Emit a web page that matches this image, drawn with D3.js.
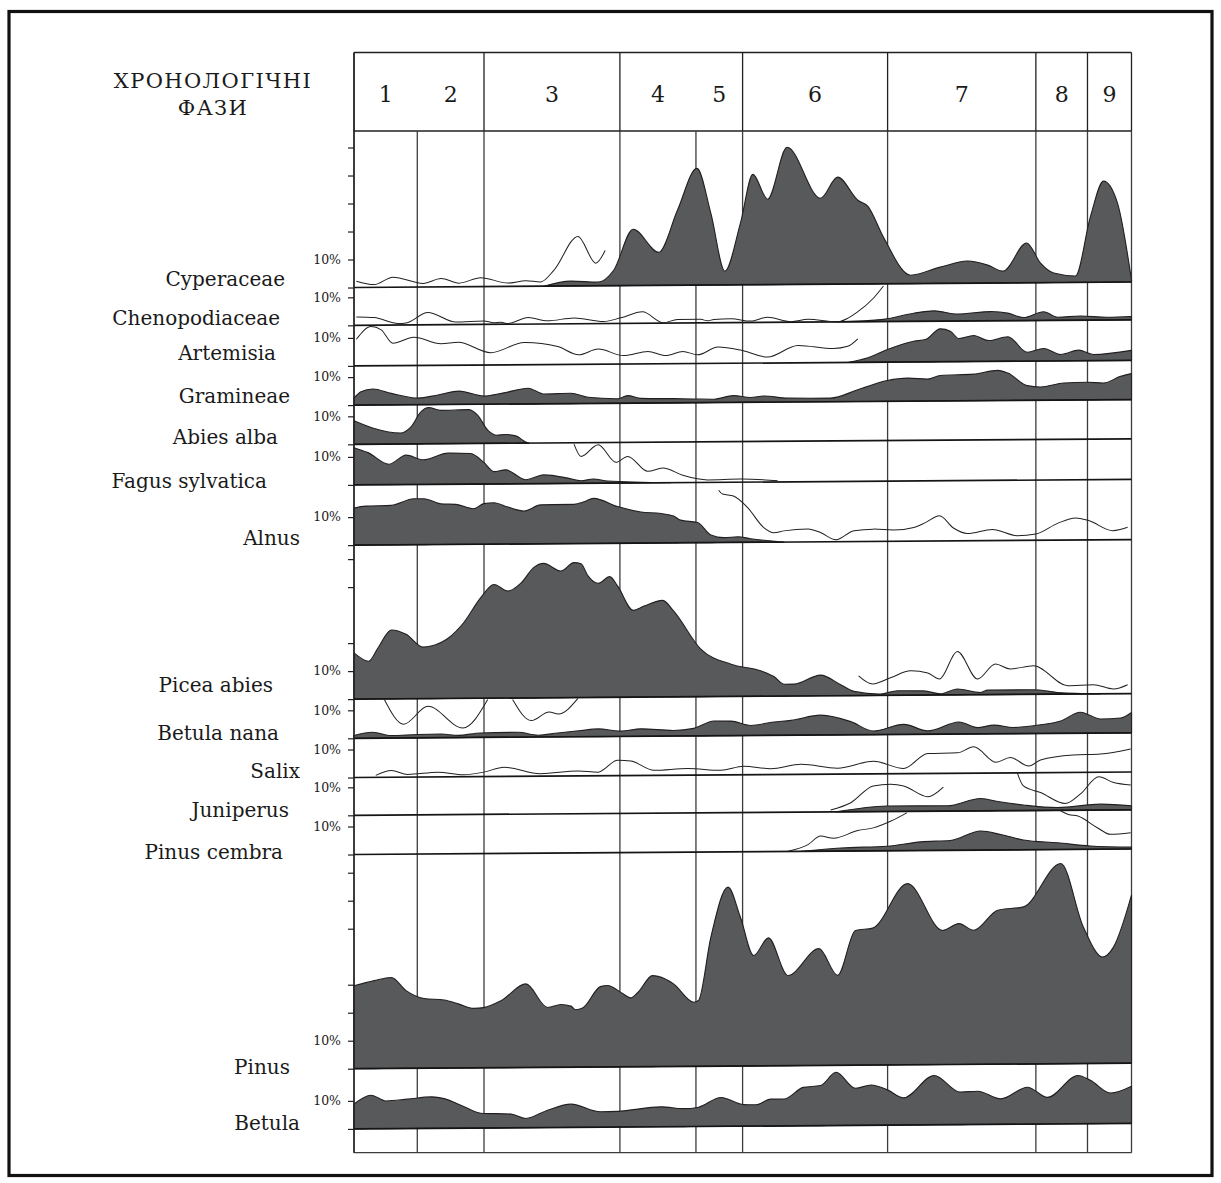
<!DOCTYPE html>
<html>
<head>
<meta charset="utf-8">
<title>Пилкова діаграма</title>
<script src="https://cdn.jsdelivr.net/npm/d3@7"></script>
<style>
  html, body { margin: 0; padding: 0; background: #fff; }
  svg { display: block; font-family: "DejaVu Serif", "Liberation Serif", serif; }
</style>
</head>
<body>
<svg id="chart" width="1221" height="1183"></svg>
<script>
// ---- Chronological phases (position along the section, 0–100) ----
const phaseLabels = ["1", "2", "3", "4", "5", "6", "7", "8", "9"];
const phaseBounds = [0, 8.14, 16.72, 34.2, 43.98, 49.98, 68.63, 87.7, 94.34, 100];
const headerBounds = [0, 16.72, 34.2, 49.98, 68.63, 87.7, 94.34, 100];
const headerTitle = ["ХРОНОЛОГІЧНІ", "ФАЗИ"];

// ---- Taxa, top to bottom ----
const taxonNames = ["Cyperaceae", "Chenopodiaceae", "Artemisia", "Gramineae", "Abies alba",
  "Fagus sylvatica", "Alnus", "Picea abies", "Betula nana", "Salix", "Juniperus",
  "Pinus cembra", "Pinus", "Betula"];

// percentage range reserved for each strip, and the ticks drawn on the axis
const panelSpans = [55.9, 13.5, 14.5, 14, 14, 14.5, 21.5, 55, 14, 14, 13.5, 14, 76.5, 21.5];
const bottomSpan = 8.5;
const panelTicks = [[0, 10, 20, 30, 40, 50], [0, 10], [0, 10], [0, 10], [0, 10], [0, 10], [0, 10],
  [0, 10, 20, 40, 50], [0, 10], [0, 10], [0, 10], [0, 10], [0, 10, 20, 30, 50, 60, 70], [0, 10]];
const tickLabel = "10%";

// ---- Pollen percentages: [position, %] ----
const cyperaceae = [[24.4,0],[27.9,1.75],[31.4,1.3],[33.4,5.5],[35.9,20.1],[39.2,11.8],[41.6,26.8],[44.1,41.7],[45.9,25.6],[47.7,4.9],[49.7,22.0],[51.3,39.4],[53.2,30.5],[55.7,49.0],[60.0,30.7],[62.2,38.2],[64.8,29.9],[66.1,27.7],[68.1,16.6],[71.6,3.0],[75.4,5.8],[78.9,7.9],[81.5,6.4],[83.5,4.2],[86.5,14.2],[88.3,7.0],[90.0,3.4],[92.8,2.3],[94.7,23.3],[96.4,36.1],[98.2,28.2],[100,0.7]];
const chenopodiaceae = [[62.2,0],[68.1,0.8],[72.0,2.9],[74.6,3.7],[77.6,2.5],[81.9,3.3],[84.1,2.7],[86.1,1.1],[88.7,3.1],[90.5,1.1],[93.4,1.5],[96.9,1.0],[100,1.2]];
const artemisia = [[63.5,0],[66.1,1.6],[68.6,4.5],[72.0,7.4],[73.5,8.0],[75.4,11.75],[76.7,10.9],[77.8,8.25],[79.7,9.3],[81.6,7.45],[84.1,8.75],[86.6,3.2],[88.7,4.5],[90.9,2.3],[93.2,3.8],[95.1,2.2],[100,3.6]];
const gramineae = [[0,2.5],[0.9,4.75],[2.4,5.7],[4.8,4.1],[8.2,2.35],[10.8,3.4],[13.5,4.75],[16.7,2.9],[19.3,4.0],[22.4,5.6],[24.4,3.5],[27.9,3.7],[30.1,2.2],[33.9,1.6],[35.2,2.7],[36.9,1.7],[41.1,1.5],[43.7,1.35],[46.3,1.2],[48.8,2.45],[51.0,1.7],[52.7,2.2],[55.8,1.4],[61.3,1.3],[64.8,4.2],[68.6,7.45],[71.2,8.25],[73.8,7.85],[75.4,9.1],[79.7,9.5],[82.8,10.8],[84.1,9.8],[86.6,5.25],[88.3,4.75],[91.3,6.1],[94.3,6.3],[96.4,6.0],[98.6,8.35],[100,9.3]];
const abiesAlba = [[0,8.4],[2.6,5.6],[6.0,3.9],[7.3,6.0],[8.6,11.4],[9.6,12.9],[11.2,11.9],[14.7,12.1],[15.9,10.1],[17.2,4.7],[18.3,2.9],[19.5,3.1],[20.8,2.6],[22.1,0.4],[22.5,0]];
const fagusSylvatica = [[0,13.3],[1.8,11.5],[4.5,7.3],[6.7,10.5],[8.9,8.8],[12.1,11.1],[15.0,10.9],[16.7,7.7],[18.0,4.4],[19.5,5.0],[22.1,1.4],[24.4,3.1],[27.5,1.9],[29.2,0.9],[30.8,1.5],[32.6,0.75],[40.7,0]];
const alnus = [[0,13.2],[1.5,13.9],[4.8,14.1],[7.7,16.4],[9.0,16.4],[11.2,14.5],[13.1,14.3],[15.4,12.7],[16.7,14.5],[18.0,14.8],[19.8,13.2],[21.9,11.75],[24.0,13.9],[28.3,14.0],[29.6,14.9],[30.8,16.1],[33.9,13.1],[36.9,11.1],[39.5,10.5],[41.1,9.6],[42.0,8.1],[44.2,7.2],[45.9,2.75],[47.6,1.75],[49.4,2.0],[51.0,1.3],[55.3,0]];
const piceaAbies = [[0,16.5],[1.9,13.5],[3.1,18.3],[4.8,24.6],[6.7,23.0],[8.9,18.4],[9.9,18.75],[12.1,21.5],[14.1,27.0],[16.3,35.9],[18.0,40.6],[19.8,38.2],[21.5,41.1],[23.1,46.5],[24.4,48.0],[26.6,45.25],[28.3,48.2],[29.2,47.8],[30.1,43.4],[31.4,40.75],[32.9,43.1],[33.9,39.75],[35.9,31.0],[37.3,32.5],[39.7,34.5],[41.1,30.7],[44.6,17.0],[48.5,11.5],[52.3,9.1],[54.0,7.0],[55.3,4.25],[56.6,4.25],[60.0,7.4],[62.6,3.9],[64.3,1.5],[67.7,0.5],[69.9,1.6],[73.3,1.5],[75.4,0.4],[77.6,2.1],[80.6,0.8],[81.5,1.6],[87.4,1.65],[90.5,0.6],[96,0]];
const betulaNana = [[0,1.0],[2.4,2.1],[4.8,0.9],[8.2,1.2],[11.2,1.3],[13.4,0.8],[16.3,1.6],[21.1,1.75],[23.7,0.65],[26.2,1.4],[29.2,2.2],[31.4,2.75],[34.3,1.9],[36.9,2.65],[41.1,2.0],[43.7,2.7],[46.3,5.25],[48.5,5.2],[51.0,3.6],[54.0,4.75],[56.2,5.3],[60.0,7.1],[63.9,4.7],[66.8,1.3],[70.7,3.6],[73.8,1.2],[77.8,4.3],[80.2,2.25],[82.3,3.1],[84.8,2.2],[88.3,3.1],[90.9,4.4],[93.4,7.5],[96.0,5.0],[98.6,5.3],[100,7.25]];
const juniperus = [[62.0,0],[68.6,2.0],[76.3,1.9],[80.6,4.4],[82.8,3.3],[86.1,2.0],[90.5,1.0],[96.0,2.1],[100,1.4]];
const pinusCembra = [[57.5,0],[62.6,1.1],[68.6,1.6],[72.9,3.1],[76.7,3.5],[80.6,6.8],[83.2,5.5],[86.1,3.5],[90.5,2.4],[94.7,1.2],[100,0.7]];
const pinus = [[0,29.6],[2.6,31.4],[4.8,32.5],[6.7,27.75],[9.0,24.9],[11.6,24.3],[13.4,22.9],[15.4,21.25],[16.7,21.5],[18.9,23.9],[22.1,29.85],[24.9,21.4],[26.6,22.4],[27.9,21.8],[28.5,20.5],[29.4,21.1],[31.7,28.7],[32.6,29.1],[34.6,26.1],[35.6,24.6],[36.5,26.5],[38.4,32.5],[39.1,32.2],[41.1,29.5],[43.7,22.9],[44.3,23.5],[45.9,46.1],[48.1,63.9],[49.7,53.1],[51.4,39.4],[53.3,45.7],[55.8,32.2],[59.8,41.7],[62.2,32.1],[64.5,48.1],[66.7,48.9],[71.2,64.7],[75.7,47.9],[77.8,50.3],[79.7,47.9],[82.8,55.0],[86.1,56.1],[90.9,71.5],[93.8,48.8],[96.3,38.0],[97.7,41.6],[100,60.0]];
const betula = [[0,8.9],[2.2,12.0],[4.1,9.9],[6.9,10.5],[9.9,11.25],[11.6,10.6],[14.1,7.7],[16.3,5.3],[20.2,4.9],[22.1,3.3],[24.9,6.2],[27.9,8.3],[31.7,5.5],[33.9,5.6],[39.5,7.1],[42.4,6.4],[44.2,6.8],[47.2,10.3],[50.1,7.7],[51.7,7.6],[53.6,9.6],[55.3,9.6],[57.8,13.7],[60.0,14.3],[62.0,19.0],[64.5,13.25],[66.5,14.4],[68.6,12.6],[70.7,9.7],[74.6,17.6],[78.0,11.6],[80.2,11.9],[83.2,9.1],[86.6,13.2],[89.2,9.5],[93.1,17.25],[94.7,15.5],[97.3,10.9],[100,13.3]];

// ---- Exaggerated curves (×10), each a list of segments ----
const cyperaceaeX10 = [[[0.3,2.25],[2.6,1.0],[5.0,3.6],[8.9,1.3],[11.2,3.0],[13.5,1.3],[16.3,3.2],[19.8,1.2],[22.1,2.0],[24.0,1.5],[25.7,5.6],[28.8,17.7],[31.1,8.1],[32.3,12.6]]];
const chenopodiaceaeX10 = [[[0.3,3.0],[2.6,2.7],[5.7,0.5],[6.7,0.7],[9.5,4.4],[13.1,0.9],[16.7,1.25],[18.0,0.6],[18.9,0.7],[19.8,0.25],[22.4,2.35],[24.9,1.1],[28.3,2.1],[32.1,0.75],[34.3,2.0],[37.1,4.1],[39.8,0.1],[41.6,1.3],[44.6,1.25],[45.5,0.7],[46.3,1.2],[48.5,1.4],[51.0,0.5],[53.2,1.8],[56.2,0.2],[58.4,1.0],[62.0,0],[64.8,3.6],[66.8,8.35],[68.1,12.7]]];
const artemisiaX10 = [[[0.3,9.5],[2.2,14.0],[3.5,12.8],[5.0,8.0],[7.7,10.1],[11.2,7.7],[13.4,8.2],[17.6,4.4],[21.9,7.9],[26.2,6.4],[28.9,3.4],[31.4,5.4],[34.7,3.0],[37.8,4.4],[40.1,2.9],[42.3,4.35],[44.2,3.1],[46.8,5.8],[49.7,4.7],[53.2,2.1],[57.1,6.2],[61.7,5.0],[63.5,5.75],[64.8,8.4]]];
const fagusSylvaticaX10 = [[[28.3,14.0],[29.2,9.6],[31.4,13.7],[33.7,7.4],[35.2,9.5],[37.8,4.1],[39.7,5.25],[42.4,2.5],[45.5,0.9],[49.7,1.1],[54.5,0.45]]];
const alnusX10 = [[[46.9,18.7],[47.4,17.3],[48.8,16.6],[50.6,12.5],[52.7,5.25],[54.0,3.4],[55.3,4.0],[58.4,4.6],[60.0,3.3],[62.0,0.7],[64.3,3.9],[66.8,4.4],[69.4,4.0],[72.0,4.9],[73.5,6.6],[75.3,9.0],[77.1,4.6],[78.9,2.6],[82.1,4.0],[85.3,1.7],[87.7,2.25],[90.5,6.0],[92.8,7.9],[94.5,6.9],[97.6,3.25],[99.5,4.4]]];
const piceaAbiesX10 = [[[64.9,7.05],[66.7,4.1],[69.0,6.25],[71.6,8.7],[73.8,7.9],[75.3,5.7],[77.6,15.5],[80.2,5.6],[82.5,10.9],[84.4,9.1],[87.4,10.2],[91.8,3.0],[95.1,3.3],[97.7,1.7],[99.5,3.2]]];
const betulaNanaX10 = [[[3.9,13.75],[6.4,4.9],[9.5,11.25],[14.0,3.4],[17.2,13.5]],[[20.4,13.5],[22.8,5.9],[25.1,8.9],[26.3,8.2],[28.8,13.7]]];
const salixX10 = [[[2.8,0.7],[4.8,2.4],[6.9,0.95],[10.8,1.7],[14.1,0.7],[16.7,1.6],[19.3,3.3],[24.0,0.9],[28.8,1.75],[31.4,1.3],[33.9,5.5],[35.6,5.2],[38.6,1.8],[42.9,2.35],[47.2,1.65],[50.1,3.0],[53.6,2.1],[57.5,3.6],[62.2,2.1],[66.8,4.5],[70.7,1.85],[73.8,7.15],[77.6,7.3],[79.7,9.4],[82.6,3.8],[84.4,5.5],[86.8,2.4],[88.3,4.5],[92.5,6.2],[96.0,6.5],[99.9,8.2]]];
const juniperusX10 = [[[61.3,0.7],[63.9,3.25],[66.8,9.2],[69.0,9.7],[70.7,9.1],[73.8,5.2],[75.8,8.6]],[[85.3,13.6],[86.1,8.8],[88.3,6.4],[91.5,2.4],[93.4,5.7],[95.8,11.85],[97.7,9.8],[99.9,8.9]]];
const pinusCembraX10 = [[[55.8,0.1],[58.4,2.4],[60.0,5.4],[61.7,4.6],[64.8,7.3],[66.8,8.2],[69.0,10.5],[71.1,13.5]],[[90.9,13.75],[91.9,12.5],[93.1,11.9],[95.6,7.7],[97.3,5.3],[99.9,5.8]]];

const taxonAreas = [cyperaceae, chenopodiaceae, artemisia, gramineae, abiesAlba, fagusSylvatica,
  alnus, piceaAbies, betulaNana, null, juniperus, pinusCembra, pinus, betula];
const taxonX10 = [cyperaceaeX10, chenopodiaceaeX10, artemisiaX10, null, null, fagusSylvaticaX10,
  alnusX10, piceaAbiesX10, betulaNanaX10, salixX10, juniperusX10, pinusCembraX10, null, null];

// ---- Layout ----
const plot = { left: 354, right: 1131.5, headerTop: 52.5, top: 131 };
// right end of each taxon name, and lift of its baseline above the strip baseline
const labelLayout = [
  { right: 285, lift: 2 }, { right: 280, lift: 0 }, { right: 276, lift: 5.5 },
  { right: 290, lift: 2.5 }, { right: 278, lift: 0 }, { right: 267, lift: -3.5 },
  { right: 300, lift: 0 }, { right: 273, lift: 7.5 }, { right: 279, lift: -1.5 },
  { right: 300, lift: 0 }, { right: 289, lift: -1.5 }, { right: 283, lift: -4.5 },
  { right: 290, lift: -5.5 }, { right: 300, lift: -1.5 }
];

const areaFill = "#58595b";
const ink = "#231f20";
const gridInk = "#3c3c3c";

const svg = d3.select("#chart");
const width = plot.right - plot.left;

const x = d3.scaleLinear().domain([0, 100]).range([0, width]);
// height of a percentage in pixels
const k = d3.scaleLinear().domain([0, 10]).range([0, 28]);

const cum = d3.cumsum(panelSpans);
const baseYs = Array.from(cum, s => plot.top + k(s));
const bottomY = baseYs[baseYs.length - 1] + k(bottomSpan);
// strip baselines rise slightly towards the younger end
const tiltDeg = Math.atan(-5.5 / width) * 180 / Math.PI;

// outer frame
svg.append("rect")
  .attr("x", 9).attr("y", 11.5)
  .attr("width", 1203).attr("height", 1164)
  .attr("fill", "none").attr("stroke", "#111").attr("stroke-width", 3.2);

const g = svg.append("g").attr("transform", `translate(${plot.left},0)`);

// header row with phase numbers
g.append("line").attr("x1", 0).attr("x2", width)
  .attr("y1", plot.headerTop).attr("y2", plot.headerTop)
  .attr("stroke", ink).attr("stroke-width", 1.4);
g.append("line").attr("x1", 0).attr("x2", width)
  .attr("y1", plot.top).attr("y2", plot.top)
  .attr("stroke", ink).attr("stroke-width", 1.4);
g.selectAll("line.hdr").data(headerBounds).join("line").attr("class", "hdr")
  .attr("x1", d => x(d)).attr("x2", d => x(d))
  .attr("y1", plot.headerTop).attr("y2", plot.top)
  .attr("stroke", ink).attr("stroke-width", 1.3);

g.selectAll("text.phase").data(phaseLabels).join("text").attr("class", "phase")
  .attr("x", (d, i) => x((phaseBounds[i] + phaseBounds[i + 1]) / 2))
  .attr("y", 102)
  .attr("text-anchor", "middle")
  .attr("font-size", 22)
  .attr("fill", "#1a1a1a")
  .text(d => d);

// phase boundaries through the diagram
g.selectAll("line.phaseLine").data(phaseBounds).join("line").attr("class", "phaseLine")
  .attr("x1", d => x(d)).attr("x2", d => x(d))
  .attr("y1", plot.top).attr("y2", bottomY)
  .attr("stroke", gridInk).attr("stroke-width", 1.3);
g.append("line").attr("x1", 0).attr("x2", width)
  .attr("y1", bottomY).attr("y2", bottomY)
  .attr("stroke", gridInk).attr("stroke-width", 1.3);

const areaGen = d3.area()
  .x(d => x(d[0])).y0(0).y1(d => -k(d[1]))
  .curve(d3.curveMonotoneX);
const lineGen = d3.line()
  .x(d => x(d[0])).y(d => -k(d[1]))
  .curve(d3.curveMonotoneX);

taxonNames.forEach((name, i) => {
  const pg = g.append("g")
    .attr("class", "taxon")
    .attr("transform", `translate(0,${baseYs[i]}) skewY(${tiltDeg})`);
  if (taxonAreas[i]) {
    pg.append("path")
      .attr("d", areaGen(taxonAreas[i]))
      .attr("fill", areaFill)
      .attr("stroke", ink).attr("stroke-width", 1.1)
      .attr("stroke-linejoin", "round");
  }
  pg.append("line")
    .attr("x1", 0).attr("x2", x(100))
    .attr("y1", 0).attr("y2", 0)
    .attr("stroke", "#151515").attr("stroke-width", 1.7);
  if (taxonX10[i]) {
    taxonX10[i].forEach(seg => {
      pg.append("path")
        .attr("d", lineGen(seg))
        .attr("fill", "none")
        .attr("stroke", ink).attr("stroke-width", 1);
    });
  }
});

// left axis with per-strip ticks
g.append("line").attr("x1", 0).attr("x2", 0)
  .attr("y1", plot.headerTop).attr("y2", bottomY)
  .attr("stroke", ink).attr("stroke-width", 1.4);

taxonNames.forEach((name, i) => {
  const axisScale = d3.scaleLinear().domain([0, 10]).range([baseYs[i], baseYs[i] - k(10)]);
  const ax = d3.axisLeft(axisScale)
    .tickValues(panelTicks[i])
    .tickSize(6)
    .tickFormat("");
  const axg = g.append("g").call(ax);
  axg.select(".domain").remove();
  axg.selectAll(".tick line").attr("stroke", ink).attr("stroke-width", 1.2);

  g.append("text")
    .attr("x", -13)
    .attr("y", axisScale(10))
    .attr("dy", "0.35em")
    .attr("text-anchor", "end")
    .attr("font-size", 12.5)
    .attr("fill", "#1a1a1a")
    .text(tickLabel);

  svg.append("text")
    .attr("x", labelLayout[i].right)
    .attr("y", baseYs[i] - labelLayout[i].lift)
    .attr("text-anchor", "end")
    .attr("font-size", 20)
    .attr("fill", "#1a1a1a")
    .text(name);
});

// column title
svg.append("text")
  .attr("x", 213).attr("y", 88)
  .attr("text-anchor", "middle")
  .attr("font-size", 21)
  .attr("letter-spacing", 1.4)
  .attr("fill", "#1a1a1a")
  .text(headerTitle[0]);
svg.append("text")
  .attr("x", 213).attr("y", 115)
  .attr("text-anchor", "middle")
  .attr("font-size", 21)
  .attr("letter-spacing", 1.4)
  .attr("fill", "#1a1a1a")
  .text(headerTitle[1]);
</script>
</body>
</html>
